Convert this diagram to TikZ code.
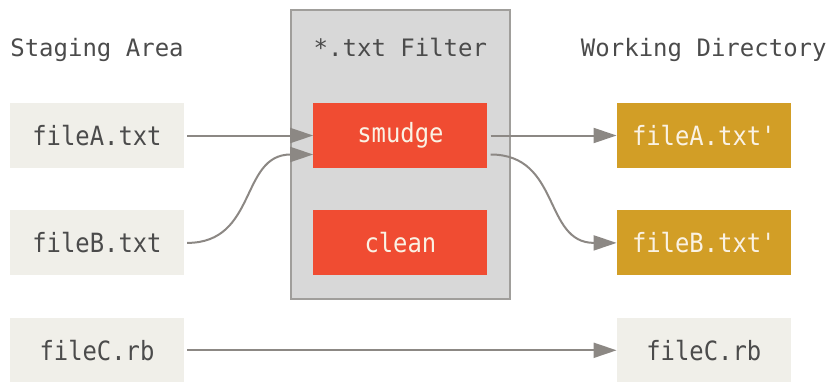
\documentclass[tikz,border=0pt]{standalone}
\usepackage{fontspec}
\setmonofont{DejaVu Sans Mono}
\newfontfamily\boxfont{DejaVu Sans Mono}[FakeStretch=0.9]
\usepackage{xcolor}
\usepackage{tikz}
\usetikzlibrary{positioning, arrows.meta, fit, backgrounds, calc}

\definecolor{stagefill}{RGB}{240,239,233}
\definecolor{gitred}{RGB}{240,76,50}
\definecolor{gitgold}{RGB}{210,158,38}
\definecolor{filterfill}{RGB}{216,216,216}
\definecolor{filterline}{RGB}{160,158,155}
\definecolor{labelgray}{RGB}{75,75,75}
\definecolor{arrowgray}{RGB}{140,136,132}
\definecolor{creamtext}{RGB}{250,242,228}

\begin{document}
\begin{tikzpicture}[
    x=1pt, y=-1pt,
    node distance=42pt and 129pt,
    >=Triangle,
    file/.style={
        rectangle, fill=stagefill,
        text=labelgray,
        minimum width=174pt, minimum height=65pt,
        inner sep=0pt,
        font=\boxfont\fontsize{26.5}{30}\selectfont
    },
    filterop/.style={file, fill=gitred, text=creamtext},
    wdfile/.style={file, fill=gitgold, text=creamtext},
    area/.style={anchor=base, text=labelgray, font=\ttfamily\fontsize{24}{28}\selectfont},
    filterbox/.style={
        rectangle, inner sep=0pt,
        draw=filterline, line width=2pt,
        fill=filterfill
    },
    flow/.style={-{Triangle[length=23pt, width=15pt]}, draw=arrowgray, line width=2pt, shorten <=3pt},
]
\useasboundingbox (0,0) rectangle (830,381);

% ---------- Staging area ----------
\node[file] (fileA) at (97,135.5) {fileA.txt};
\node[file, below=of fileA] (fileB) {fileB.txt};
\node[file, below=of fileB] (fileC) {fileC.rb};

% ---------- Filter ----------
\node[filterop, right=of fileA] (smudge) {smudge};
\node[filterop, right=of fileB] (clean) {clean};

% ---------- Working directory ----------
\node[wdfile, right=of smudge] (fileAw) {fileA.txt'};
\node[wdfile, right=of clean] (fileBw) {fileB.txt'};
\node[file] (fileCw) at (fileBw |- fileC) {fileC.rb};

% ---------- Headings ----------
\node[area] (stagetitle) at (fileA |- 0,56) {Staging Area};
\node[area] (filtertitle) at (smudge |- 0,56) {*.txt Filter};
\node[area] (wdtitle) at (fileAw |- 0,56) {Working Directory};

% ---------- Filter box behind ----------
\begin{scope}[on background layer]
    \node[filterbox, fit={($(smudge.north west)+(-22,-93)$) ($(clean.south east)+(22,23)$)}] (filter) {};
\end{scope}

% ---------- Arrows ----------
\draw[flow] (fileA) -- (smudge);
\draw[flow] (fileB.east) to[out=0, in=180, looseness=1.2] ([yshift=-19pt]smudge.west);
\draw[flow] (smudge) -- (fileAw);
\draw[flow] ([yshift=-19pt]smudge.east) to[out=0, in=180, looseness=1.2] (fileBw.west);
\draw[flow] (fileC) -- (fileCw);

\end{tikzpicture}
\end{document}
